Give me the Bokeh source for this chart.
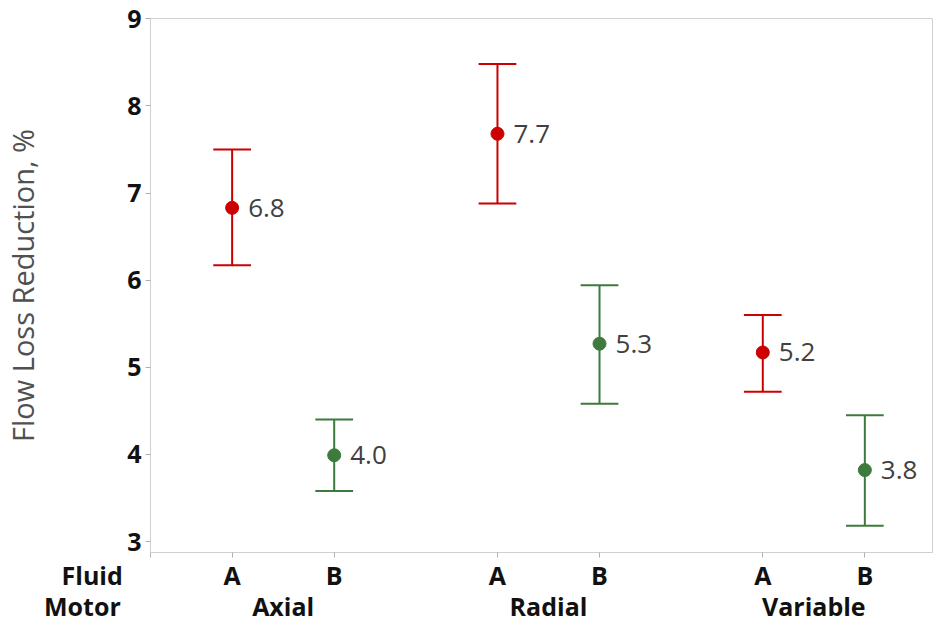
from bokeh.plotting import figure
from bokeh.models import ColumnDataSource, Range1d, LinearAxis, FixedTicker
from bokeh.core.properties import value
from bokeh.embed import file_html
from bokeh.resources import INLINE

# ---- data ----
motors = ["Axial", "Radial", "Variable"]
fluids = ["A", "B"]
motor_col = ["Axial", "Axial", "Radial", "Radial", "Variable", "Variable"]
fluid_col = ["A", "B", "A", "B", "A", "B"]
means = [6.83, 3.99, 7.68, 5.27, 5.17, 3.82]
lower = [6.17, 3.58, 6.88, 4.58, 4.72, 3.18]
upper = [7.50, 4.40, 8.48, 5.94, 5.60, 4.45]
labels = ["6.8", "4.0", "7.7", "5.3", "5.2", "3.8"]
y_ticks = [3, 4, 5, 6, 7, 8, 9]
row_captions = ["Fluid", "Motor"]

RED = "#cc0000"
GREEN = "#3d7a3d"
GROUP_GAP = 2.6
FONT = "Open Sans"
X0, X1 = -0.80, 6.863
NBSP = "\u00a0"

xs = [motors.index(m) * GROUP_GAP + fluids.index(f) for m, f in zip(motor_col, fluid_col)]
colors = [RED if f == "A" else GREEN for f in fluid_col]
cap = 0.185
src = ColumnDataSource(dict(
    x=xs, mean=means, lo=lower, hi=upper, lab=labels, color=colors,
    cx0=[x - cap for x in xs], cx1=[x + cap for x in xs],
))

p = figure(width=934, height=625, output_backend="svg", toolbar_location=None,
           x_range=Range1d(X0, X1), y_range=Range1d(2.874, 9.003),
           min_border_left=150, min_border_right=2, min_border_top=18, min_border_bottom=73)
p.xaxis.visible = False
p.xgrid.visible = False
p.ygrid.visible = False
p.outline_line_color = "#d0d0d0"
p.background_fill_color = "white"
p.border_fill_color = "white"

# y axis
ya = p.yaxis[0]
ya.ticker = FixedTicker(ticks=y_ticks)
ya.axis_line_color = "#d0d0d0"
ya.major_tick_line_color = "#b0b0b0"
ya.major_tick_out = 5
ya.major_tick_in = 0
ya.minor_tick_line_color = None
ya.major_label_text_font = FONT
ya.major_label_text_font_style = "bold"
ya.major_label_text_font_size = "25px"
ya.major_label_text_color = "#111111"
ya.major_label_standoff = 4
ya.axis_label = "Flow Loss Reduction, %"
ya.axis_label_text_font = FONT
ya.axis_label_text_font_style = "normal"
ya.axis_label_text_font_size = "29px"
ya.axis_label_text_color = "#505050"
ya.axis_label_standoff = 82

# caption placed at the left edge, padded so that its visible part sits left of the frame
cap_pos = X0 + 0.001
def padded(t, n):
    return t + NBSP * n

# bottom axis: fluid labels (with tick marks)
ax1 = LinearAxis(ticker=FixedTicker(ticks=[cap_pos] + xs),
                 major_label_overrides={**{cap_pos: padded(row_captions[0], 18)},
                                        **{x: f for x, f in zip(xs, fluid_col)}})
ax1.axis_line_color = "#d0d0d0"
ax1.major_tick_line_color = "#b0b0b0"
ax1.major_tick_out = 5
ax1.major_label_standoff = 0

# bottom axis: motor labels
centers = [i * GROUP_GAP + 0.5 for i in range(len(motors))]
ax2 = LinearAxis(ticker=FixedTicker(ticks=[cap_pos] + centers),
                 major_label_overrides={**{cap_pos: padded(row_captions[1], 21)},
                                        **{c: m for c, m in zip(centers, motors)}})
ax2.axis_line_color = None
ax2.major_tick_line_color = None
ax2.major_tick_out = 0
ax2.major_label_standoff = -6

for ax in (ax1, ax2):
    ax.major_tick_in = 0
    ax.minor_tick_line_color = None
    ax.major_label_text_font = FONT
    ax.major_label_text_font_style = "bold"
    ax.major_label_text_font_size = "25px"
    ax.major_label_text_color = "#111111"
    p.add_layout(ax, "below")

# error bars
p.segment(x0="x", y0="lo", x1="x", y1="hi", source=src, line_color="color", line_width=2)
p.segment(x0="cx0", y0="hi", x1="cx1", y1="hi", source=src, line_color="color", line_width=2)
p.segment(x0="cx0", y0="lo", x1="cx1", y1="lo", source=src, line_color="color", line_width=2)
p.scatter(x="x", y="mean", source=src, size=13, fill_color="color", line_color="color")
p.text(x="x", y="mean", text="lab", source=src, x_offset=16, text_align="left",
       text_baseline="middle", text_font=value(FONT), text_font_size="26px",
       text_color="#404040")

open("out.html", "w").write(file_html(p, INLINE))
